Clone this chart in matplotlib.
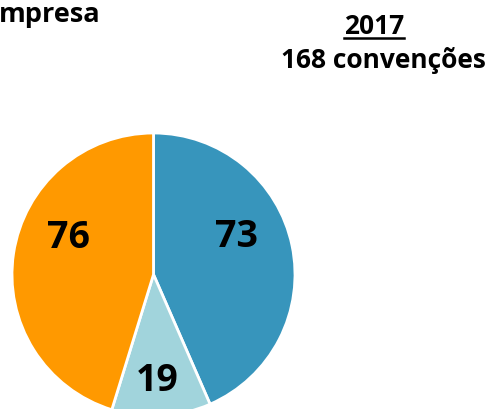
import matplotlib
matplotlib.use("Agg")
import matplotlib.pyplot as plt
from matplotlib.lines import Line2D

# dados
categorias = ["A", "B", "C"]
valores = [73, 19, 76]
cores = ["#3795BC", "#A1D4DC", "#FF9900"]
ano = "2017"
total_txt = "168 convenções"
titulo_cortado = "mpresa"

W, H = 494, 409
fig = plt.figure(figsize=(W / 100, H / 100), dpi=100)
plt.rcParams['font.family'] = ['Open Sans', 'DejaVu Sans']

# pizza: centro (153.5, 274.5) px, raio 141.5 px
cx, cy, r = 153.5, 274.5, 141.5
ax = fig.add_axes([(cx - r) / W, (H - cy - r) / H, 2 * r / W, 2 * r / H])
wedges, _ = ax.pie(valores, colors=cores, startangle=90, counterclock=False,
                   radius=1, wedgeprops=dict(edgecolor="white", linewidth=2))
ax.set_xlim(-1, 1)
ax.set_ylim(-1, 1)
ax.set_aspect("equal")
ax.axis("off")

# rótulos dentro das fatias
pos_rotulos = [(0.59, 0.265), (0.025, -0.755), (-0.60, 0.26)]
for v, (x, y) in zip(valores, pos_rotulos):
    ax.text(x, y, str(v), ha="center", va="center", fontsize=27,
            fontweight="bold", color="black")

fig.text(-0.002, 1 - 22 / H, titulo_cortado, ha="left", va="baseline",
         fontsize=19.5, fontweight="bold")
t_ano = fig.text(374 / W, 1 - 34 / H, ano, ha="center", va="baseline",
                 fontsize=19, fontweight="bold")
fig.text(383.5 / W, 1 - 68 / H, total_txt, ha="center", va="baseline",
         fontsize=19, fontweight="bold")

# sublinhado do ano
fig.canvas.draw()
bb = t_ano.get_window_extent()
yl = (H - 38) / H
fig.add_artist(Line2D([bb.x0 / W, bb.x1 / W], [yl, yl], color="black", lw=1.8))

fig.savefig("out.png", dpi=100)
